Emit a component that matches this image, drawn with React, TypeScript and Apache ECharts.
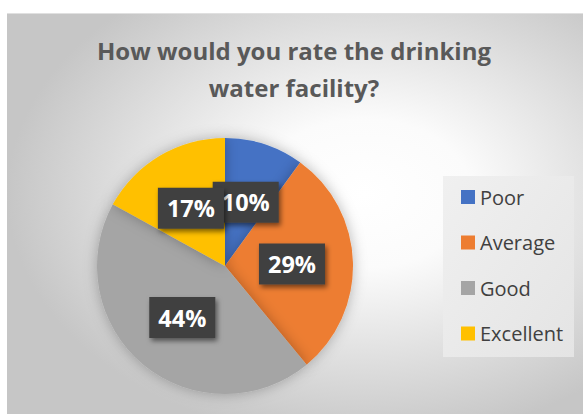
import React, { useEffect, useRef } from "react";
import * as echarts from "echarts";

const categories = ["Poor", "Average", "Good", "Excellent"];
const values = [10, 29, 44, 17];
const colors = ["#4472C4", "#ED7D31", "#A5A5A5", "#FFC000"];
const titleText = "How would you rate the drinking\nwater facility?";

export default function App() {
  const ref = useRef<HTMLDivElement>(null);
  useEffect(() => {
    if (!ref.current) return;
    const chart = echarts.init(ref.current, undefined, { renderer: "svg" });
    chart.setOption({
      animation: false,
      graphic: [
        {
          type: "rect",
          z: -10,
          shape: { x: 7, y: 13, width: 576, height: 401 },
          style: {
            fill: {
              type: "radial",
              x: 0.62,
              y: 0.45,
              r: 0.62,
              colorStops: [
                { offset: 0, color: "#ffffff" },
                { offset: 0.3, color: "#fbfbfb" },
                { offset: 1, color: "#c6c6c6" },
              ],
            },
          },
        },
        {
          type: "line",
          z: -9,
          shape: { x1: 7, y1: 13.5, x2: 583, y2: 13.5 },
          style: { stroke: "#e0e0e0", lineWidth: 1 },
        },
        {
          type: "rect",
          z: -8,
          shape: { x: 443, y: 176, width: 131, height: 181 },
          style: {
            fill: {
              type: "linear",
              x: 0,
              y: 0,
              x2: 1,
              y2: 1,
              colorStops: [
                { offset: 0, color: "#f0f0f0" },
                { offset: 1, color: "#e4e4e4" },
              ],
            },
          },
        },
        {
          type: "text",
          style: {
            text: titleText,
            x: 294,
            y: 32,
            textAlign: "center",
            textVerticalAlign: "top",
            fontFamily: "Open Sans",
            fontWeight: "bold",
            fontSize: 24,
            lineHeight: 37,
            fill: "#595959",
          },
        },
      ],
      legend: {
        orient: "vertical",
        left: 456,
        top: 181,
        itemWidth: 14,
        itemHeight: 14,
        itemGap: 23.5,
        icon: "rect",
        data: categories,
        textStyle: {
          fontFamily: "Open Sans",
          fontSize: 20,
          lineHeight: 22,
          color: "#404040",
        },
      },
      series: [
        {
          type: "pie",
          center: [225, 266],
          radius: 128,
          startAngle: 90,
          clockwise: true,
          avoidLabelOverlap: false,
          minShowLabelAngle: 0,
          color: colors,
          itemStyle: {
            shadowBlur: 14,
            shadowColor: "rgba(0,0,0,0.28)",
          },
          label: {
            show: true,
            position: "inside",
            formatter: (p: any) => Math.round(p.percent) + "%",
            fontFamily: "Open Sans",
            fontWeight: "bold",
            fontSize: 23.5,
            lineHeight: 23,
            color: "#ffffff",
            backgroundColor: "#404040",
            padding: [9, 9, 9, 9],
            overflow: "none",
            shadowColor: "rgba(0,0,0,0.5)",
            shadowBlur: 5,
            shadowOffsetX: 2,
            shadowOffsetY: 3,
          },
          labelLayout: { hideOverlap: false },
          labelLine: { show: false },
          emphasis: { disabled: true },
          data: categories.map((c, i) => ({ name: c, value: values[i] })),
        },
      ],
    });
    return () => chart.dispose();
  }, []);
  return (
    <div
      ref={ref}
      style={{ position: "absolute", left: 0, top: 0, width: 583, height: 414, background: "#ffffff" }}
    />
  );
}
